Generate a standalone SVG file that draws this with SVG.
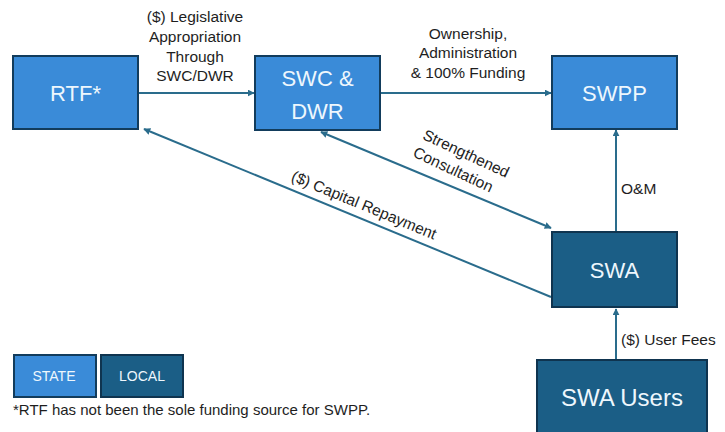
<svg xmlns="http://www.w3.org/2000/svg" width="725" height="432" viewBox="0 0 725 432">
  <defs>
    <style>
      .state { fill: #3a8bd8; stroke: #123c5c; stroke-width: 2; }
      .local { fill: #1b5e86; stroke: #0f344f; stroke-width: 2; }
      .nodetxt { font-family: "Liberation Sans", Arial, sans-serif; fill: #eef7fd; text-anchor: middle; dominant-baseline: central; }
      .lbl { font-family: "Liberation Sans", Arial, sans-serif; font-size: 15.5px; fill: #1e1e1e; }
      .conn { stroke: #2a6c8c; stroke-width: 2; fill: none; }
    </style>
    <marker id="arrow" viewBox="0 0 10 10" refX="9" refY="5" markerWidth="3.5" markerHeight="3.5" orient="auto-start-reverse">
      <path d="M0,0 L10,5 L0,10 z" fill="#2a6c8c"/>
    </marker>
  </defs>

  <rect width="725" height="432" fill="#ffffff"/>

  <!-- connectors -->
  <g id="connectors">
    <line class="conn" x1="138" y1="93" x2="254" y2="93" marker-end="url(#arrow)"/>
    <line class="conn" x1="380" y1="93" x2="551" y2="93" marker-end="url(#arrow)"/>
    <line class="conn" x1="616" y1="232" x2="616" y2="130" marker-end="url(#arrow)"/>
    <line class="conn" x1="616" y1="360" x2="616" y2="309" marker-end="url(#arrow)"/>
    <line class="conn" x1="321" y1="132" x2="551" y2="228" marker-start="url(#arrow)" marker-end="url(#arrow)"/>
    <line class="conn" x1="551" y1="297" x2="144" y2="129" marker-end="url(#arrow)"/>
  </g>

  <!-- connector labels -->
  <g id="labels">
    <text class="lbl" text-anchor="middle" x="195" y="22">($) Legislative</text>
    <text class="lbl" text-anchor="middle" x="195" y="42">Appropriation</text>
    <text class="lbl" text-anchor="middle" x="195" y="62">Through</text>
    <text class="lbl" text-anchor="middle" x="195" y="81">SWC/DWR</text>
    <text class="lbl" text-anchor="middle" x="468" y="39">Ownership,</text>
    <text class="lbl" text-anchor="middle" x="468" y="58">Administration</text>
    <text class="lbl" text-anchor="middle" x="468" y="78">&amp; 100% Funding</text>
    <g transform="translate(460,162) rotate(25)">
      <text class="lbl" text-anchor="middle" x="2" y="-5">Strengthened</text>
      <text class="lbl" text-anchor="middle" x="-3" y="15">Consultation</text>
    </g>
    <text class="lbl" text-anchor="middle" transform="translate(362,210) rotate(22.5)">($) Capital Repayment</text>
    <text class="lbl" x="621" y="194">O&amp;M</text>
    <text class="lbl" x="621" y="345">($) User Fees</text>
  </g>

  <!-- nodes -->
  <g id="rtf">
    <rect class="state" x="13" y="56" width="125" height="73"/>
    <text class="nodetxt" x="75.5" y="93" font-size="22">RTF*</text>
  </g>
  <g id="swc-dwr">
    <rect class="state" x="255" y="56" width="125" height="74"/>
    <text class="nodetxt" x="317.5" y="78" font-size="22">SWC &amp;</text>
    <text class="nodetxt" x="317.5" y="111" font-size="22">DWR</text>
  </g>
  <g id="swpp">
    <rect class="state" x="552" y="56" width="125" height="73"/>
    <text class="nodetxt" x="614.5" y="93" font-size="22">SWPP</text>
  </g>
  <g id="swa">
    <rect class="local" x="552" y="232" width="125" height="75"/>
    <text class="nodetxt" x="614.5" y="270" font-size="22">SWA</text>
  </g>
  <g id="swa-users">
    <rect class="local" x="537" y="360" width="170" height="80"/>
    <text class="nodetxt" x="622" y="397" font-size="24">SWA Users</text>
  </g>

  <!-- legend -->
  <g id="legend-state">
    <rect class="state" x="14" y="355" width="82" height="42"/>
    <text class="nodetxt" x="54" y="376" font-size="14">STATE</text>
  </g>
  <g id="legend-local">
    <rect class="local" x="101" y="355" width="82" height="42"/>
    <text class="nodetxt" x="142" y="376" font-size="14">LOCAL</text>
  </g>
  <text class="lbl" x="13" y="415" style="font-size:15px">*RTF has not been the sole funding source for SWPP.</text>
</svg>
